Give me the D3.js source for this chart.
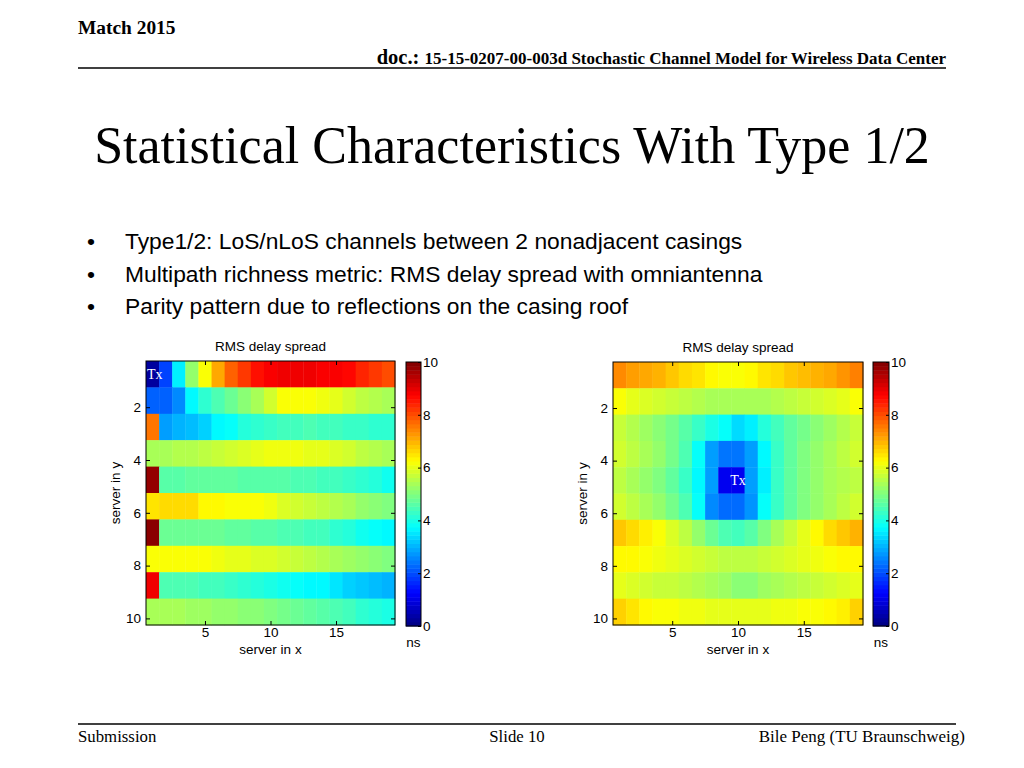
<!DOCTYPE html>
<html><head><meta charset="utf-8">
<script src="https://cdn.jsdelivr.net/npm/d3@7"></script>
<style>body{margin:0;background:#fff}svg{display:block}</style>
</head><body>
<svg id="c" width="1024" height="768"></svg>
<script>
// ---------- data ----------
const xCount = 19;
const yCount = 10;
const xTicks = [5, 10, 15];
const yTicks = [2, 4, 6, 8, 10];
const cbarTicks = [0, 2, 4, 6, 8, 10];
const bullets = [
  "Type1/2: LoS/nLoS channels between 2 nonadjacent casings",
  "Multipath richness metric: RMS delay spread with omniantenna",
  "Parity pattern due to reflections on the casing roof"
];
// left panel: RMS delay spread (ns), rows y=1..10, columns x=1..19
const leftValues = [
  [0.3, 1.9, 3.6, 5.2, 6.2, 7.1, 7.8, 8.2, 8.6, 8.8, 8.9, 8.9, 8.9, 8.8, 8.8, 8.7, 8.4, 8.2, 8.0],
  [2.2, 2.2, 2.6, 3.7, 4.2, 4.5, 4.8, 5.1, 5.4, 5.8, 6.2, 6.2, 6.2, 6.1, 6.0, 5.8, 5.6, 5.5, 5.4],
  [7.6, 2.8, 3.0, 3.1, 3.3, 3.7, 3.8, 4.1, 4.2, 4.3, 4.4, 4.4, 4.5, 4.4, 4.4, 4.3, 4.3, 4.2, 4.2],
  [5.4, 5.4, 5.5, 5.5, 5.6, 5.7, 5.8, 5.9, 6.0, 6.1, 6.1, 6.1, 6.0, 6.0, 5.9, 5.8, 5.6, 5.5, 5.4],
  [9.8, 4.6, 4.6, 4.7, 4.7, 4.7, 4.7, 4.6, 4.6, 4.6, 4.6, 4.5, 4.5, 4.4, 4.4, 4.3, 4.2, 4.1, 3.9],
  [6.5, 6.6, 6.6, 6.6, 6.3, 6.3, 6.2, 6.2, 6.2, 6.1, 5.9, 5.8, 5.7, 5.6, 5.5, 5.4, 5.2, 5.1, 5.0],
  [9.9, 4.8, 4.8, 4.8, 4.8, 4.8, 4.7, 4.7, 4.6, 4.6, 4.5, 4.5, 4.4, 4.4, 4.2, 4.1, 3.9, 3.8, 3.7],
  [6.2, 6.2, 6.2, 6.2, 6.2, 6.1, 6.0, 6.0, 5.9, 5.9, 5.8, 5.7, 5.6, 5.5, 5.4, 5.3, 5.2, 5.1, 5.0],
  [8.9, 4.5, 4.5, 4.5, 4.4, 4.4, 4.3, 4.2, 4.1, 4.0, 3.9, 3.8, 3.7, 3.7, 3.5, 3.3, 3.2, 3.1, 3.0],
  [5.4, 5.4, 5.4, 5.3, 5.3, 5.2, 5.2, 5.1, 5.1, 5.0, 4.9, 4.8, 4.7, 4.6, 4.5, 4.4, 4.2, 4.1, 4.0]
];
const rightValues = [
  [7.4, 7.2, 7.1, 7.0, 6.8, 6.6, 6.5, 6.3, 6.2, 6.2, 6.3, 6.5, 6.6, 6.8, 6.9, 7.0, 7.1, 7.3, 7.5],
  [6.2, 6.0, 5.9, 5.8, 5.7, 5.6, 5.5, 5.4, 5.4, 5.4, 5.4, 5.4, 5.5, 5.6, 5.7, 5.8, 5.9, 6.0, 6.2],
  [5.7, 5.5, 5.3, 5.1, 4.9, 4.6, 4.3, 4.0, 3.8, 3.4, 3.6, 4.1, 4.4, 4.7, 4.9, 5.1, 5.3, 5.5, 5.7],
  [5.8, 5.6, 5.4, 5.2, 4.9, 4.5, 3.8, 2.8, 2.4, 2.4, 2.8, 3.7, 4.3, 4.7, 5.0, 5.2, 5.4, 5.6, 5.8],
  [5.6, 5.4, 5.2, 5.0, 4.7, 4.3, 3.7, 2.8, 1.1, 1.1, 2.8, 3.6, 4.3, 4.7, 5.0, 5.2, 5.4, 5.5, 5.6],
  [5.8, 5.6, 5.4, 5.2, 4.9, 4.5, 3.8, 2.6, 2.3, 2.3, 2.7, 3.8, 4.3, 4.7, 5.0, 5.2, 5.4, 5.6, 5.8],
  [6.8, 6.6, 6.4, 6.2, 5.9, 5.6, 5.2, 4.8, 4.5, 4.4, 4.6, 5.0, 5.4, 5.7, 6.0, 6.3, 6.6, 6.8, 7.0],
  [6.3, 6.3, 6.2, 6.1, 6.0, 5.9, 5.8, 5.7, 5.6, 5.6, 5.6, 5.7, 5.8, 5.9, 6.0, 6.1, 6.2, 6.3, 6.3],
  [6.0, 5.9, 5.8, 5.7, 5.7, 5.6, 5.5, 5.4, 5.3, 5.1, 5.1, 5.3, 5.4, 5.5, 5.6, 5.7, 5.8, 5.9, 6.0],
  [6.7, 6.5, 6.3, 6.2, 6.2, 6.1, 6.1, 6.0, 6.0, 6.0, 6.0, 6.0, 6.1, 6.1, 6.2, 6.2, 6.3, 6.4, 6.7]
];

// ---------- helpers ----------
const svg = d3.select("#c");
const serif = "'Liberation Serif','Times New Roman',serif";
const sans = "'Liberation Sans',Arial,Helvetica,sans-serif";

function jet(t) {
  const c = v => Math.max(0, Math.min(1, v));
  const r = c(1.5 - Math.abs(4 * t - 3));
  const g = c(1.5 - Math.abs(4 * t - 2));
  const b = c(1.5 - Math.abs(4 * t - 1));
  return d3.rgb(r * 255, g * 255, b * 255).toString();
}
const color = d3.scaleSequential(jet).domain([0, 10]);

// ---------- slide header ----------
svg.append("text").attr("x", 78).attr("y", 34).attr("font-family", serif)
  .attr("font-weight", "bold").attr("font-size", 19.4).text("Match 2015");
const hdr = svg.append("text").attr("x", 946).attr("y", 64).attr("text-anchor", "end")
  .attr("font-family", serif).attr("font-weight", "bold");
hdr.append("tspan").attr("font-size", 20.5).text("doc.: ");
hdr.append("tspan").attr("font-size", 17).text("15-15-0207-00-003d Stochastic Channel Model for Wireless Data Center");
svg.append("line").attr("x1", 78).attr("x2", 946).attr("y1", 68).attr("y2", 68)
  .attr("stroke", "#000").attr("stroke-width", 1.5);

svg.append("text").attr("x", 512).attr("y", 163).attr("text-anchor", "middle")
  .attr("font-family", serif).attr("font-size", 52).text("Statistical Characteristics With Type 1/2");

bullets.forEach((b, i) => {
  const y = 249 + i * 32.5;
  svg.append("text").attr("x", 87).attr("y", y).attr("font-family", sans).attr("font-size", 22.8).text("•");
  svg.append("text").attr("x", 125).attr("y", y).attr("font-family", sans).attr("font-size", 22.8).text(b);
});

// footer
svg.append("line").attr("x1", 78).attr("x2", 956).attr("y1", 724).attr("y2", 724)
  .attr("stroke", "#000").attr("stroke-width", 1.5);
svg.append("text").attr("x", 78).attr("y", 742).attr("font-family", serif).attr("font-size", 16.8).text("Submission");
svg.append("text").attr("x", 517).attr("y", 742).attr("text-anchor", "middle").attr("font-family", serif).attr("font-size", 16.8).text("Slide 10");
svg.append("text").attr("x", 965).attr("y", 742).attr("text-anchor", "end").attr("font-family", serif).attr("font-size", 17).text("Bile Peng (TU Braunschweig)");

// ---------- heatmap panel ----------
function panel(values, box, cbar, tx) {
  const x = d3.scaleLinear().domain([0.5, xCount + 0.5]).range([box.x0, box.x1]);
  const y = d3.scaleLinear().domain([0.25, yCount + 0.25]).range([box.y0, box.y1]);
  const g = svg.append("g");
  const cells = [];
  values.forEach((row, j) => row.forEach((v, i) => cells.push({ cx: i + 1, cy: j + 1, v })));
  g.selectAll("rect.cell").data(cells).join("rect").attr("class", "cell")
    .attr("x", d => x(d.cx - 0.5)).attr("y", d => y(d.cy - 0.75))
    .attr("width", d => x(d.cx + 0.5) - x(d.cx - 0.5) + 0.4)
    .attr("height", d => y(d.cy + 0.25) - y(d.cy - 0.75) + 0.4)
    .attr("fill", d => color(d.v));
  // frame
  g.append("rect").attr("x", box.x0).attr("y", box.y0).attr("width", box.x1 - box.x0)
    .attr("height", box.y1 - box.y0).attr("fill", "none").attr("stroke", "#000").attr("stroke-width", 1);
  // axes (ticks inward)
  const fs = 13.5;
  const xb = g.append("g").attr("transform", `translate(0,${box.y1})`)
    .call(d3.axisBottom(x).tickValues(xTicks).tickSize(-4).tickPadding(2));
  const xt = g.append("g").attr("transform", `translate(0,${box.y0})`)
    .call(d3.axisTop(x).tickValues(xTicks).tickSize(-4).tickFormat(""));
  const yl = g.append("g").attr("transform", `translate(${box.x0},0)`)
    .call(d3.axisLeft(y).tickValues(yTicks).tickSize(-4).tickPadding(5));
  const yr = g.append("g").attr("transform", `translate(${box.x1},0)`)
    .call(d3.axisRight(y).tickValues(yTicks).tickSize(-4).tickFormat(""));
  [xb, xt, yl, yr].forEach(a => {
    a.select(".domain").remove();
    a.selectAll("text").attr("font-family", sans).attr("font-size", fs).attr("fill", "#000");
    a.selectAll("line").attr("stroke", "#000");
  });
  // title and labels
  const cx = (box.x0 + box.x1) / 2;
  g.append("text").attr("x", cx).attr("y", box.y0 - 10).attr("text-anchor", "middle")
    .attr("font-family", sans).attr("font-size", 13.5).text("RMS delay spread");
  g.append("text").attr("x", cx).attr("y", box.y1 + 29).attr("text-anchor", "middle")
    .attr("font-family", sans).attr("font-size", 13.5).text("server in x");
  g.append("text").attr("transform", `translate(${box.x0 - 26},${(box.y0 + box.y1) / 2}) rotate(-90)`)
    .attr("text-anchor", "middle").attr("font-family", sans).attr("font-size", 13.5).text("server in y");
  // Tx label
  g.append("text").attr("x", tx.anchor === "start" ? x(tx.x - 0.5) + 1 : x(tx.x))
    .attr("y", y(tx.y - 0.25) + 5).attr("text-anchor", tx.anchor)
    .attr("font-family", serif).attr("font-size", 14).attr("fill", "#fff").text("Tx");
  // colorbar
  const cs = d3.scaleLinear().domain([0, 10]).range([cbar.y1, cbar.y0]);
  const steps = d3.range(0, 64);
  g.selectAll("rect.cb").data(steps).join("rect").attr("class", "cb")
    .attr("x", cbar.x0).attr("width", cbar.x1 - cbar.x0)
    .attr("y", d => cs((d + 1) * 10 / 64)).attr("height", d => cs(d * 10 / 64) - cs((d + 1) * 10 / 64) + 0.5)
    .attr("fill", d => color((d + 0.5) * 10 / 64));
  g.append("rect").attr("x", cbar.x0).attr("y", cbar.y0).attr("width", cbar.x1 - cbar.x0)
    .attr("height", cbar.y1 - cbar.y0).attr("fill", "none").attr("stroke", "#000");
  const ca = g.append("g").attr("transform", `translate(${cbar.x1},0)`)
    .call(d3.axisRight(cs).tickValues(cbarTicks).tickSize(-3).tickPadding(2));
  ca.select(".domain").remove();
  ca.selectAll("text").attr("font-family", sans).attr("font-size", fs).attr("fill", "#000");
  ca.selectAll("line").attr("stroke", "#000");
  g.append("text").attr("x", (cbar.x0 + cbar.x1) / 2).attr("y", cbar.y1 + 21).attr("text-anchor", "middle")
    .attr("font-family", sans).attr("font-size", 13.5).text("ns");
}

panel(leftValues, { x0: 146, x1: 395, y0: 361, y1: 625 }, { x0: 406, x1: 421, y0: 362, y1: 626 },
  { x: 1, y: 1, anchor: "start" });
panel(rightValues, { x0: 613, x1: 863, y0: 362, y1: 625 }, { x0: 873, x1: 889, y0: 362, y1: 626 },
  { x: 10, y: 5, anchor: "middle" });
</script>
</body></html>
